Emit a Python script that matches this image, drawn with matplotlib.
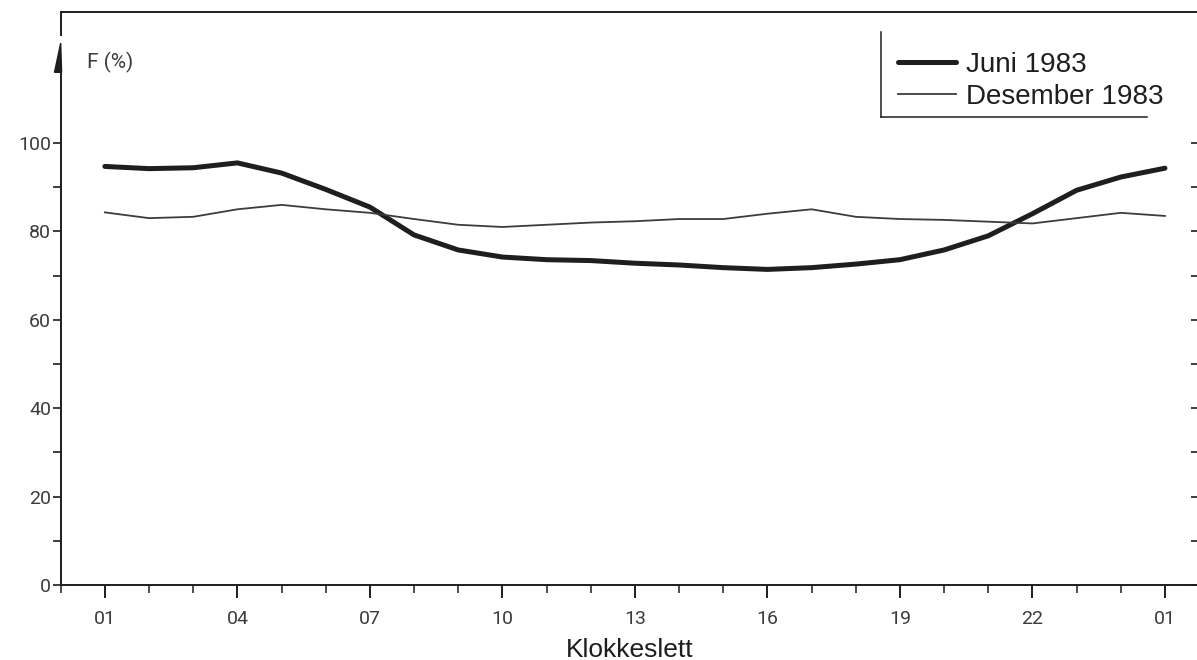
import matplotlib
matplotlib.use("Agg")
import matplotlib.pyplot as plt
from matplotlib.lines import Line2D
from matplotlib.patches import Polygon

# hours 01 .. 01 (next day), relative humidity F (%)
hours = list(range(1, 26))
juni = [94.7, 94.2, 94.4, 95.5, 93.2, 89.5, 85.5, 79.2, 75.8, 74.2,
        73.6, 73.4, 72.8, 72.4, 71.8, 71.4, 71.8, 72.6, 73.6, 75.8,
        79.0, 84.0, 89.3, 92.3, 94.3]
desember = [84.3, 83.0, 83.3, 85.0, 86.0, 85.0, 84.2, 82.8, 81.5, 81.0,
            81.5, 82.0, 82.3, 82.8, 82.8, 84.0, 85.0, 83.3, 82.8, 82.6,
            82.2, 81.8, 83.0, 84.2, 83.5]
xtick_pos = [1, 4, 7, 10, 13, 16, 19, 22, 25]
xtick_labels = ["01", "04", "07", "10", "13", "16", "19", "22", "01"]
ytick_major = [0, 20, 40, 60, 80, 100]
ytick_minor = [10, 30, 50, 70, 90]

W, H = 1197, 660
fig = plt.figure(figsize=(W / 100, H / 100), dpi=100)
ax = fig.add_axes([60.7 / W, 75 / H, 1 - 60.7 / W, 573 / H])

ink = "#1e1e1e"
grey = "#3c3c3c"
tickfont = dict(family=["Roboto", "DejaVu Sans"], weight="normal", size=14)

ax.plot(hours, juni, color=ink, lw=3.6, solid_capstyle="round",
        solid_joinstyle="round", label="Juni 1983")
ax.plot(hours, desember, color=grey, lw=1.3, solid_joinstyle="round",
        label="Desember 1983")

ax.set_xlim(0, (W - 60.7) / 44.17)
ax.set_ylim(0, 573 / 4.42)

ax.set_xticks(xtick_pos)
ax.set_xticklabels(xtick_labels, fontdict=tickfont, color=grey)
ax.set_xticks([h for h in range(0, 26) if h not in xtick_pos], minor=True)
ax.tick_params(axis="x", which="major", length=9, width=1.4, pad=9,
               color=ink)
ax.tick_params(axis="x", which="minor", length=6, width=1.1, color=ink)

ax.set_yticks(ytick_major)
ax.set_yticklabels([str(v) for v in ytick_major], fontdict=tickfont,
                   color=grey)
ax.set_yticks(ytick_minor, minor=True)
ax.tick_params(axis="y", which="both", length=6, width=1.2, pad=1,
               color=ink, right=True, direction="out")
# right side ticks drawn inwards
for t in ax.yaxis.get_major_ticks() + ax.yaxis.get_minor_ticks():
    t.tick2line.set_marker(0)
    t.tick2line.set_markersize(4)

for s in ["left", "bottom", "top"]:
    ax.spines[s].set_color(ink)
    ax.spines[s].set_linewidth(1.4)
ax.spines["right"].set_visible(False)
ax.spines["left"].set_bounds(0, 117)

# arrow head on the y-axis and the short frame piece above it
ax.add_patch(Polygon([[-0.14, 116.0], [0.02, 116.0], [0.0, 122.6]],
                     closed=True, color=ink, clip_on=False))
ax.plot([0, 0], [124.4, 129.7], color=ink, lw=1.4, clip_on=False)

ax.text(0.6, 118.3, "F (%)", fontsize=15, color=grey,
        family=["Roboto", "DejaVu Sans"], va="center")

fig.text(566 / W, 3 / H, "Klokkeslett", fontsize=19, color=ink,
         family="Liberation Sans", ha="left", va="baseline")

leg = ax.legend(loc="upper left", bbox_to_anchor=(898 / W, 1 - 52 / H),
                bbox_transform=fig.transFigure, frameon=False,
                prop=dict(family="Liberation Sans", size=20),
                handlelength=2.1, handletextpad=0.35, labelspacing=0.2,
                borderpad=0, borderaxespad=0)
for txt in leg.get_texts():
    txt.set_color(ink)

# legend box edges (left and bottom only)
fig.add_artist(Line2D([881 / W, 881 / W], [1 - 32 / H, 1 - 117 / H],
                      color=ink, lw=1.1))
fig.add_artist(Line2D([881 / W, 1147 / W], [1 - 117 / H, 1 - 117 / H],
                      color=ink, lw=1.1))

fig.savefig("out.png", dpi=100)
plt.close(fig)
